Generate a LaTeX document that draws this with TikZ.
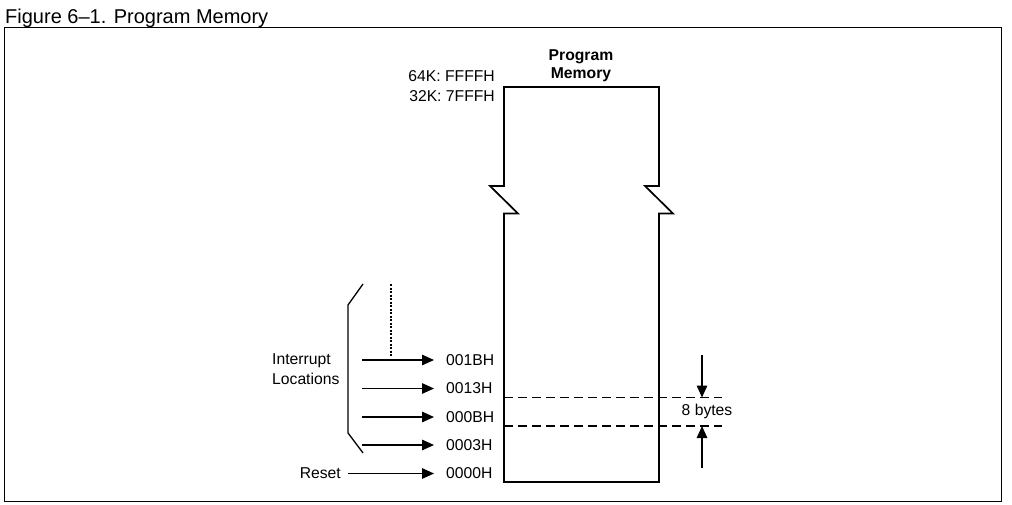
\documentclass[tikz,border=0pt]{standalone}
\usepackage{fontspec}
\setmainfont{Liberation Sans}
\usetikzlibrary{arrows.meta}
\begin{document}
\begin{tikzpicture}[x=1pt,y=-1pt,
  lbl/.style={inner sep=0pt,font=\fontsize{15.7}{19}\selectfont},
  arr/.style={line width=1.4pt,-{Triangle[length=12pt,width=10.5pt]}},
  memline/.style={line width=1.7pt,line join=miter},
  dashline/.style={line width=1.3pt,dash pattern=on 9pt off 5pt}]
\useasboundingbox (0,0) rectangle (1012,505);
% title and frame
\node[inner sep=0pt,anchor=base west,font=\fontsize{20}{24}\selectfont] (title) at (5,23.5) {Figure 6--1. Program Memory};
\draw[line width=1.3pt] (4.5,27.7) rectangle (1001.5,501.5);
% memory box
\draw[memline] (504,186) -- (504,87) -- (659,87) -- (659,186) -- (645,186) -- (673,213.5) -- (659,213.5) -- (659,482) -- (504,482) -- (504,213.5) -- (518,213.5) -- (490,186) -- cycle;
\node[lbl,font=\fontsize{15.7}{19}\selectfont\bfseries,align=center] (pm) at (581,65.5) {Program\\[-1pt]Memory};
\node[lbl,anchor=east,align=right] (top) at (495,86) {64K: FFFFH\\[1pt]32K: 7FFFH};
% bracket
\coordinate (bt) at (363,284);
\coordinate (bb) at (363,453);
\draw[line width=1.3pt] (bt) -- (348,305) -- (348,433) -- (bb);
\coordinate (dt) at (391,284);
\coordinate (db) at (391,356);
\draw[line width=1.1pt,dash pattern=on 2pt off 1.5pt] (dt) -- (db);
\node[lbl,anchor=west,align=left] (intr) at (272,369) {Interrupt\\[1pt]Locations};
\node[lbl,anchor=east] (reset) at (341,473) {Reset};
% addresses
\node[lbl,anchor=west] (a1) at (446,360) {001BH};
\node[lbl,anchor=west] (a2) at (446,388.5) {0013H};
\node[lbl,anchor=west] (a3) at (446,417) {000BH};
\node[lbl,anchor=west] (a4) at (446,445) {0003H};
\node[lbl,anchor=west] (a5) at (446,473.5) {0000H};
\coordinate (s1) at (362,360);
\coordinate (s2) at (362,388.5);
\coordinate (s3) at (362,417);
\coordinate (s4) at (362,445);
\coordinate (s5) at (348,473.5);
\draw[arr] (s1) -- ([xshift=-12pt]a1.west |- s1);
\draw[arr] (s2) -- ([xshift=-12pt]a2.west |- s2);
\draw[arr] (s3) -- ([xshift=-12pt]a3.west |- s3);
\draw[arr] (s4) -- ([xshift=-12pt]a4.west |- s4);
\draw[arr] (s5) -- ([xshift=-12pt]a5.west |- s5);
% dashed lines and 8 bytes
\coordinate (d1l) at (504,397.5);
\coordinate (d1r) at (722,397.5);
\coordinate (d2l) at (504,426);
\coordinate (d2r) at (722,426);
\draw[dashline] (d1l) -- (d1r);
\draw[dashline] (d2l) -- (d2r);
\coordinate (u1) at (702,355);
\coordinate (u2) at (702,468);
\coordinate (t1) at (702,397.5);
\coordinate (t2) at (702,426);
\draw[arr] (u1) -- (t1);
\draw[arr] (u2) -- (t2);
\node[lbl] (eb) at (707,411) {8 bytes};
\end{tikzpicture}
\end{document}
